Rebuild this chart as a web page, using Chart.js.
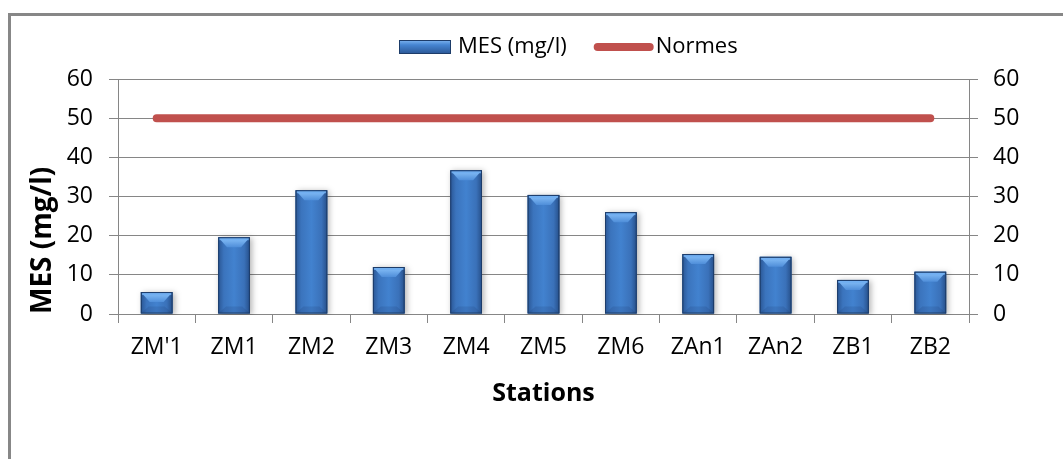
<!DOCTYPE html>
<html>
<head>
<meta charset="utf-8">
<title>MES par station</title>
<script src="https://cdn.jsdelivr.net/npm/chart.js@4.4.1/dist/chart.umd.min.js"></script>
<style>
  html, body { margin: 0; padding: 0; background: #fff; overflow: hidden; }
  #wrap { position: relative; width: 1063px; height: 459px; }
  #frame {
    position: absolute; left: 8px; top: 13px;
    width: 1100px; height: 500px;
    border: 3px solid #878787; box-sizing: border-box;
  }
  #chart { position: absolute; left: 0; top: 0; }
</style>
</head>
<body>
<div id="wrap">
  <div id="frame"></div>
  <canvas id="chart" width="1063" height="459"></canvas>
</div>
<script>
// ── Data ──
const stations   = ["ZM'1", 'ZM1', 'ZM2', 'ZM3', 'ZM4', 'ZM5', 'ZM6', 'ZAn1', 'ZAn2', 'ZB1', 'ZB2'];
const mesValues  = [5.6, 19.6, 31.6, 12.0, 36.7, 30.4, 26.0, 15.3, 14.6, 8.7, 10.8];
const normeValue = 50;
const normeValues = stations.map(() => normeValue);
const yTicks     = [0, 10, 20, 30, 40, 50, 60];

const FONT = '"Open Sans", "DejaVu Sans", sans-serif';
const GRID = '#868686';

// ── Bar look: rounded-edge blue with a bevelled top ──
function paintBar(ctx, bar) {
  const { x, y, base, width } = bar.getProps(['x', 'y', 'base', 'width'], true);
  const l = x - width / 2, r = x + width / 2;
  const t = Math.min(y, base), b = Math.max(y, base);
  const h = b - t;

  ctx.save();
  ctx.shadowColor = 'rgba(0,0,0,0.3)';
  ctx.shadowBlur = 6;
  ctx.shadowOffsetX = 2;
  ctx.shadowOffsetY = 1;
  const g = ctx.createLinearGradient(l, 0, r, 0);
  g.addColorStop(0, '#2a5694');
  g.addColorStop(0.18, '#3b74bd');
  g.addColorStop(0.5, '#4282cf');
  g.addColorStop(0.82, '#3a71b9');
  g.addColorStop(1, '#264f89');
  ctx.fillStyle = g;
  ctx.fillRect(l, t, width, h);
  ctx.restore();

  ctx.save();
  // top bevel
  const bh = Math.min(10, h / 2);
  const tg = ctx.createLinearGradient(0, t, 0, t + bh);
  tg.addColorStop(0, '#8cc4fb');
  tg.addColorStop(1, '#4f8ed9');
  ctx.fillStyle = tg;
  ctx.beginPath();
  ctx.moveTo(l + 1, t + 1);
  ctx.lineTo(r - 1, t + 1);
  ctx.lineTo(r - width * 0.28, t + bh);
  ctx.lineTo(l + width * 0.28, t + bh);
  ctx.closePath();
  ctx.fill();
  ctx.fillStyle = 'rgba(110,172,240,0.8)';
  ctx.fillRect(l + 1, t + 1, width - 2, 2);

  // faint bottom bevel
  const bb = Math.min(7, h / 3);
  ctx.fillStyle = 'rgba(20,45,90,0.14)';
  ctx.beginPath();
  ctx.moveTo(l + 1, b - 1);
  ctx.lineTo(r - 1, b - 1);
  ctx.lineTo(r - width * 0.25, b - bb);
  ctx.lineTo(l + width * 0.25, b - bb);
  ctx.closePath();
  ctx.fill();

  ctx.strokeStyle = '#1d3c69';
  ctx.lineWidth = 1;
  ctx.strokeRect(l + 0.5, t + 0.5, width - 1, h - 1);
  ctx.restore();
}

const barLook = {
  id: 'barLook',
  afterDatasetDraw(chart, args) {
    if (args.index !== 0) return;
    const ctx = chart.ctx;
    ctx.save();
    ctx.beginPath();
    ctx.rect(0, 0, chart.width, chart.chartArea.bottom + 1);
    ctx.clip();
    args.meta.data.forEach(bar => paintBar(ctx, bar));
    ctx.restore();
  }
};

// ── Legend drawn along the top ──
const topLegend = {
  id: 'topLegend',
  afterDraw(chart) {
    const ctx = chart.ctx;
    const ds = chart.data.datasets;
    const cy = 47;
    let x = 399;
    ctx.save();
    ctx.font = '22px ' + FONT;
    ctx.textBaseline = 'middle';

    // bar swatch
    const g = ctx.createLinearGradient(0, cy - 7, 0, cy + 7);
    g.addColorStop(0, '#7fb6f2');
    g.addColorStop(0.35, '#4685d2');
    g.addColorStop(1, '#2a5694');
    ctx.fillStyle = g;
    ctx.fillRect(x, cy - 7, 52, 14);
    ctx.strokeStyle = '#1d3c69';
    ctx.lineWidth = 1;
    ctx.strokeRect(x + 0.5, cy - 6.5, 51, 13);
    x += 59;
    ctx.fillStyle = '#000';
    ctx.fillText(ds[0].label, x, cy);
    x += ctx.measureText(ds[0].label).width + 27;

    // line swatch
    ctx.strokeStyle = ds[1].borderColor;
    ctx.lineWidth = 8;
    ctx.lineCap = 'round';
    ctx.beginPath();
    ctx.moveTo(x + 4, cy);
    ctx.lineTo(x + 56, cy);
    ctx.stroke();
    x += 62;
    ctx.fillText(ds[1].label, x, cy);
    ctx.restore();
  }
};

const tickFont = { family: FONT, size: 23 };

new Chart(document.getElementById('chart'), {
  data: {
    labels: stations,
    datasets: [
      {
        type: 'bar',
        label: 'MES (mg/l)',
        data: mesValues,
        backgroundColor: '#3b77c2',
        borderWidth: 0,
        categoryPercentage: 1,
        barPercentage: 0.41,
        yAxisID: 'y',
      },
      {
        type: 'line',
        label: 'Normes',
        data: normeValues,
        borderColor: '#C0504D',
        borderWidth: 8,
        borderCapStyle: 'round',
        pointRadius: 0,
        fill: false,
        yAxisID: 'y',
      },
    ],
  },
  options: {
    responsive: false,
    animation: false,
    layout: { padding: { left: 20, right: 0, top: 79, bottom: 50 } },
    plugins: {
      legend: { display: false },
      tooltip: { enabled: false },
    },
    scales: {
      x: {
        offset: true,
        grid: { drawOnChartArea: false, color: GRID, tickLength: 9, offset: true },
        border: { color: GRID },
        ticks: { color: '#000', font: { family: FONT, size: 23 }, padding: 11, maxRotation: 0 },
        title: {
          display: true, text: 'Stations', color: '#000',
          font: { family: FONT, size: 25, weight: 'bold' },
          padding: { top: 0, bottom: 0 },
        },
        afterFit(scale) { scale.height = 95; },
      },
      y: {
        position: 'left',
        min: yTicks[0],
        max: yTicks[yTicks.length - 1],
        grid: { color: GRID, tickLength: 9 },
        border: { color: GRID },
        ticks: { stepSize: yTicks[1] - yTicks[0], color: '#000', font: tickFont, padding: 16 },
        title: {
          display: true, text: 'MES (mg/l)', color: '#000', align: 'start',
          font: { family: FONT, size: 28, weight: 'bold' },
          padding: { top: 6, bottom: 0 },
        },
        afterFit(scale) { scale.width = 98; },
      },
      y2: {
        position: 'right',
        min: yTicks[0],
        max: yTicks[yTicks.length - 1],
        grid: { drawOnChartArea: false, color: GRID, tickLength: 9 },
        border: { color: GRID },
        ticks: { stepSize: yTicks[1] - yTicks[0], color: '#000', font: tickFont, padding: 15 },
        afterFit(scale) { scale.width = 94; },
      },
    },
  },
  plugins: [barLook, topLegend],
});
</script>
</body>
</html>
